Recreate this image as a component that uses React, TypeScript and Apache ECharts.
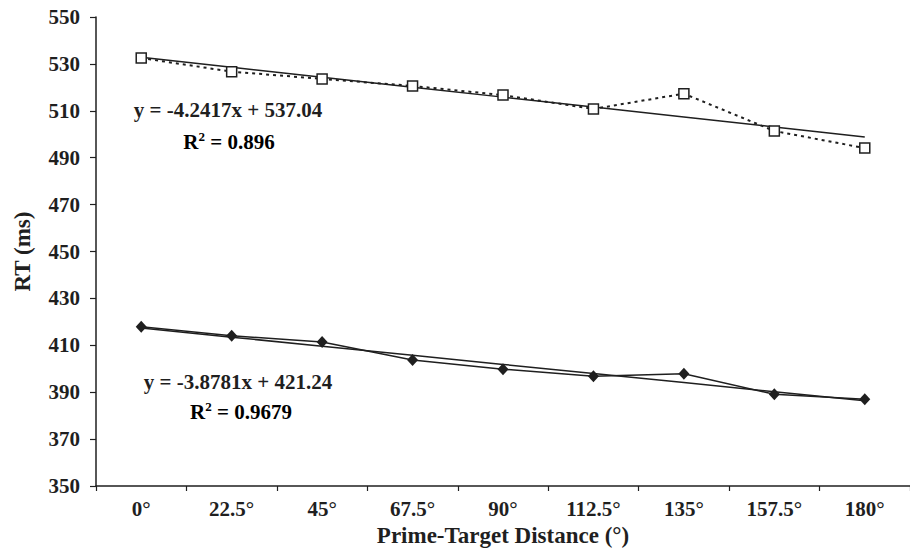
import React, { useEffect, useRef } from "react";
import * as echarts from "echarts";

const categories = ["0°", "22.5°", "45°", "67.5°", "90°", "112.5°", "135°", "157.5°", "180°"];
const upperRT = [532.5, 526.7, 523.6, 520.6, 516.7, 510.8, 517.3, 501.4, 494.1];
const lowerRT = [417.9, 414.1, 411.4, 403.7, 399.8, 396.8, 397.9, 389.1, 387.0];
const upperFit = { slope: -4.2417, intercept: 537.04, r2: "0.896" };
const lowerFit = { slope: -3.8781, intercept: 421.24, r2: "0.9679" };
const yTicks = { min: 350, max: 550, interval: 20 };

const FONT = "'Liberation Serif', 'Times New Roman', serif";
const INK = "#1f1f1f";

function fitLine(fit: { slope: number; intercept: number }) {
  return categories.map((_, i) => +(fit.slope * (i + 1) + fit.intercept).toFixed(3));
}

function eqText(fit: { slope: number; intercept: number }) {
  return `y = ${fit.slope}x + ${fit.intercept.toFixed(2)}`;
}

export default function App() {
  const ref = useRef<HTMLDivElement>(null);
  useEffect(() => {
    if (!ref.current) return;
    const chart = echarts.init(ref.current, null, { renderer: "svg" });
    const textBase = { fontFamily: FONT, fontWeight: "bold" as const, fill: INK };
    const rich = {
      n: { fontFamily: FONT, fontWeight: "bold", fontSize: 21, color: INK, lineHeight: 24 },
      s: { fontFamily: FONT, fontWeight: "bold", fontSize: 13, color: INK, verticalAlign: "top", lineHeight: 24, padding: [0, 0, 9, 0] },
    };
    chart.setOption({
      animation: false,
      backgroundColor: "#ffffff",
      grid: { left: 96, top: 17, right: -8, bottom: 70, containLabel: false },
      xAxis: {
        type: "category",
        data: categories,
        boundaryGap: true,
        name: "Prime-Target Distance (°)",
        nameLocation: "middle",
        nameGap: 38,
        nameTextStyle: { fontFamily: FONT, fontWeight: "bold", fontSize: 23, color: INK },
        axisLine: { lineStyle: { color: INK, width: 1.5 } },
        axisTick: { show: true, length: 5, lineStyle: { color: INK, width: 1.2 } },
        axisLabel: { fontFamily: FONT, fontWeight: "bold", fontSize: 21, color: INK, margin: 12 },
        splitLine: { show: false },
      },
      yAxis: {
        type: "value",
        min: yTicks.min,
        max: yTicks.max,
        interval: yTicks.interval,
        name: "RT (ms)",
        nameLocation: "middle",
        nameGap: 62,
        nameTextStyle: { fontFamily: FONT, fontWeight: "bold", fontSize: 23, color: INK },
        axisLine: { show: true, lineStyle: { color: INK, width: 1.5 } },
        axisTick: { show: true, length: 6, lineStyle: { color: INK, width: 1.2 } },
        axisLabel: { fontFamily: FONT, fontWeight: "bold", fontSize: 21, color: INK, margin: 16 },
        splitLine: { show: false },
      },
      series: [
        {
          type: "line",
          data: fitLine(upperFit),
          symbol: "none",
          lineStyle: { color: INK, width: 1.5, type: "solid" },
          z: 2,
        },
        {
          type: "line",
          data: fitLine(lowerFit),
          symbol: "none",
          lineStyle: { color: INK, width: 1.5, type: "solid" },
          z: 2,
        },
        {
          type: "line",
          data: upperRT,
          symbol: "rect",
          symbolSize: 10,
          itemStyle: { color: "#ffffff", borderColor: INK, borderWidth: 1.5 },
          lineStyle: { color: INK, width: 2, type: [3, 4] },
          z: 3,
        },
        {
          type: "line",
          data: lowerRT,
          symbol: "diamond",
          symbolSize: [11, 12],
          itemStyle: { color: INK, borderColor: INK, borderWidth: 0 },
          lineStyle: { color: INK, width: 1.5, type: "solid" },
          z: 3,
        },
      ],
      graphic: [
        {
          type: "text",
          x: 228,
          y: 110,
          style: { ...textBase, text: eqText(upperFit), fontSize: 21, align: "center", verticalAlign: "middle" },
        },
        {
          type: "text",
          x: 229,
          y: 142,
          style: { text: `{n|R}{s|2}{n| = ${upperFit.r2}}`, rich, align: "center", verticalAlign: "middle" },
        },
        {
          type: "text",
          x: 238,
          y: 382,
          style: { ...textBase, text: eqText(lowerFit), fontSize: 21, align: "center", verticalAlign: "middle" },
        },
        {
          type: "text",
          x: 241,
          y: 412,
          style: { text: `{n|R}{s|2}{n| = ${lowerFit.r2}}`, rich, align: "center", verticalAlign: "middle" },
        },
      ],
    });
    return () => chart.dispose();
  }, []);
  return (
    <div
      ref={ref}
      style={{ position: "absolute", left: 0, top: 0, width: 910, height: 556, background: "#fff" }}
    />
  );
}
